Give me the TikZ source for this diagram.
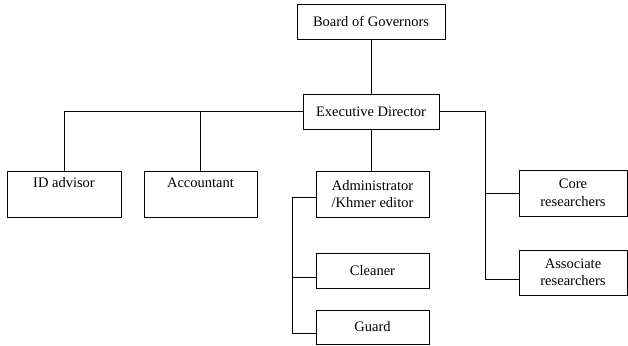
\documentclass[tikz,border=0pt]{standalone}
\usepackage{fontspec}
\setmainfont{Liberation Serif}
\usetikzlibrary{calc}
\tikzset{
	org chart/.style={
		x=1pt,y=-1pt,
		line width=0.9pt,
		font=\rmfamily\fontsize{14.5}{17.5}\selectfont
	},
	post/.style={
		rectangle,
		draw,
		inner sep=0pt,
		align=center,
		minimum width=113pt,
		minimum height=46pt
	},
	short post/.style={
		post,
		minimum height=35pt
	},
	branch/.style={
		line width=0.9pt
	}
}

\begin{document}
\begin{tikzpicture}[org chart]
		\useasboundingbox (0,0) rectangle (628,345);
		% top of the chart
		\node[short post,minimum width=148pt] (board) at (371,21.5) {Board of Governors};
		\node[short post,minimum width=136pt] (exec) at (371,111.5) {Executive Director};
		% second row
		\node[post,minimum width=114pt] (idadvisor) at (64,194) {ID advisor\\ \strut};
		\node[post] (accountant) at (200.5,194) {Accountant\\ \strut};
		\node[post] (admin) at (372.5,194) {Administrator\\/Khmer editor};
		\node[post,minimum width=108pt] (core) at (573,193) {Core\\researchers};
		\node[post,minimum width=108pt,minimum height=45pt] (assoc) at (573,272.5) {Associate\\researchers};
		% under the administrator
		\node[short post] (cleaner) at (372.5,270.5) {Cleaner};
		\node[short post,minimum height=34pt] (guard) at (372.5,327) {Guard};
		% joints
		\coordinate (rtop) at (485,111.5);
		\coordinate (rbot) at (485,279);
		\coordinate (ltop) at (292,197);
		\coordinate (lmid) at (292,277);
		\coordinate (lbot) at (292,333);
		% connectors
		\draw[branch] (board.south) -- (exec.north);
		\draw[branch] (exec.west) -| (idadvisor.north);
		\draw[branch] (accountant.north) -- (accountant.north |- rtop);
		\draw[branch] (exec.south) -- (exec.south |- admin.north);
		\draw[branch] (exec.east) -- (rtop) -- (rbot) -- (rbot -| assoc.west);
		\draw[branch] (core.west) -- (core.west -| rtop);
		\draw[branch] (ltop -| admin.west) -- (ltop) -- (lbot) -- (lbot -| guard.west);
		\draw[branch] (lmid) -- (lmid -| cleaner.west);
	\end{tikzpicture}
\end{document}
